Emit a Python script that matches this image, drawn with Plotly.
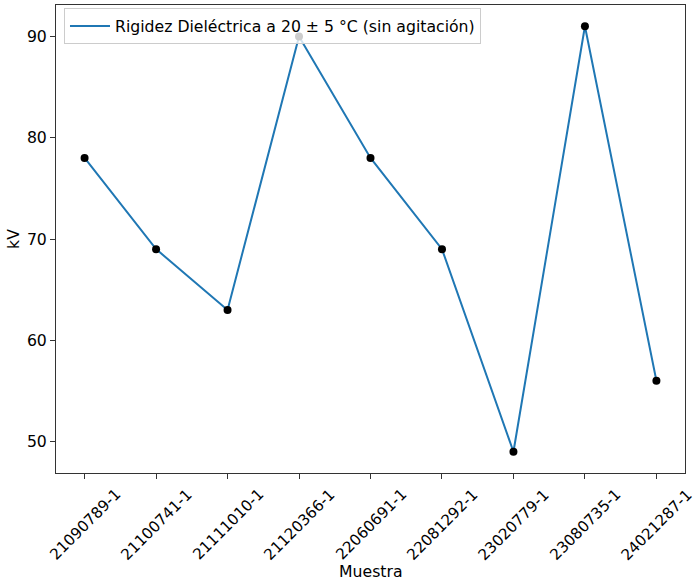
import plotly.graph_objects as go

muestras = ["21090789-1", "21100741-1", "21111010-1", "21120366-1", "22060691-1",
            "22081292-1", "23020779-1", "23080735-1", "24021287-1"]
kv = [78, 69, 63, 90, 78, 69, 49, 91, 56]
serie = "Rigidez Dieléctrica a 20 ± 5 °C (sin agitación)"

x = list(range(len(muestras)))
FS = 15.7
FS_LAB = 15.2

fig = go.Figure()
fig.add_trace(go.Scatter(x=x, y=kv, mode="lines", name=serie,
                         line=dict(color="#1f77b4", width=2)))
fig.add_trace(go.Scatter(x=x, y=kv, mode="markers", showlegend=False,
                         marker=dict(color="black", size=8)))

axis_common = dict(showline=True, linecolor="#333333", linewidth=1, mirror=True,
                   showgrid=False, zeroline=False, ticks="outside", ticklen=5,
                   tickcolor="#333333", tickfont=dict(size=FS, color="black"),
                   automargin=False)

for xi, lab in zip(x, muestras):
    fig.add_annotation(x=xi, y=-0.021, xref="x", yref="paper", text=lab,
                       showarrow=False, textangle=-45, xanchor="center", yanchor="top",
                       font=dict(size=FS_LAB, color="black"))

fig.add_annotation(x=0.5, y=-0.2115, xref="paper", yref="paper", text="Muestra",
                   showarrow=False, xanchor="center", yanchor="middle",
                   font=dict(size=FS, color="black"))

fig.update_layout(
    width=693, height=587,
    margin=dict(l=56, r=8, t=5, b=114),
    plot_bgcolor="white", paper_bgcolor="white",
    font=dict(family="DejaVu Sans", size=FS, color="black"),
    showlegend=True,
    legend=dict(x=0.0127, y=0.993, xanchor="left", yanchor="top",
                bgcolor="rgba(255,255,255,0.8)", bordercolor="#cccccc", borderwidth=1,
                itemwidth=40, font=dict(size=FS)),
    xaxis=dict(range=[-0.4, 8.4], tickmode="array", tickvals=x,
               ticktext=[""] * len(x), **axis_common),
    yaxis=dict(range=[46.9, 93.1], tickvals=[50, 60, 70, 80, 90],
               title=dict(text="kV", font=dict(size=FS), standoff=3),
               **axis_common),
)

fig.write_html("out.html", config={"displayModeBar": False},
               post_script="document.body.style.margin='0';document.body.style.overflow='hidden';")
